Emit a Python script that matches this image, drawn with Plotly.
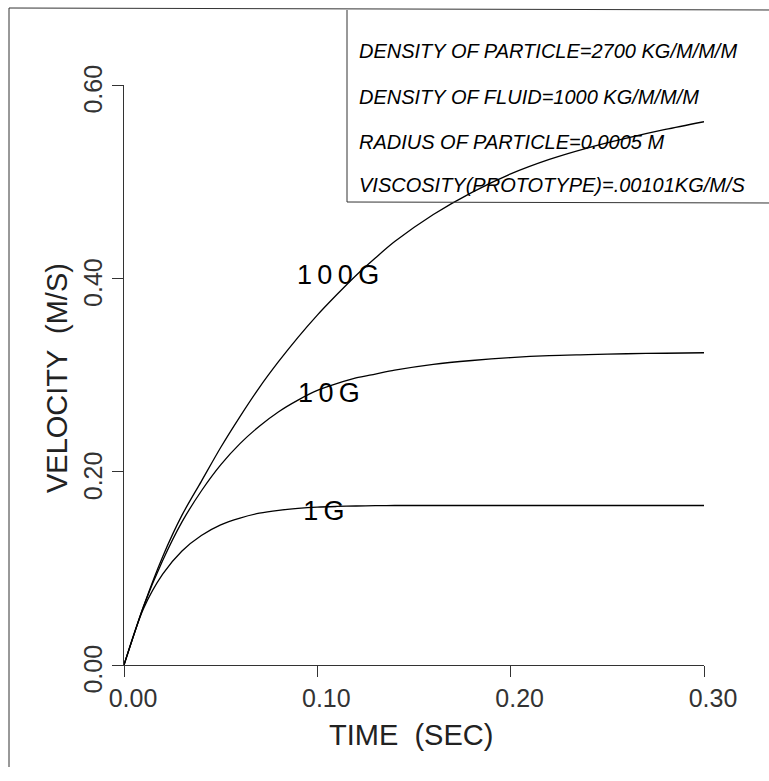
import plotly.graph_objects as go

# ---- data ----
time_s = [0, 0.01, 0.02, 0.03, 0.04, 0.05, 0.06, 0.07, 0.08, 0.09, 0.10, 0.11,
          0.12, 0.13, 0.14, 0.16, 0.18, 0.20, 0.22, 0.24, 0.26, 0.28, 0.30]
v_100g = [0, 0.060, 0.112, 0.155, 0.190, 0.225, 0.257, 0.287, 0.314, 0.339, 0.362, 0.383,
          0.403, 0.421, 0.438, 0.466, 0.489, 0.508, 0.523, 0.535, 0.545, 0.554, 0.562]
v_10g = [0, 0.060, 0.108, 0.148, 0.180, 0.207, 0.229, 0.247, 0.262, 0.274, 0.284, 0.291,
         0.297, 0.301, 0.305, 0.311, 0.315, 0.318, 0.320, 0.321, 0.322, 0.3225, 0.323]
v_1g = [0, 0.058, 0.094, 0.118, 0.134, 0.145, 0.152, 0.157, 0.160, 0.162, 0.1633, 0.1640,
        0.1645, 0.1648, 0.165, 0.165, 0.165, 0.165, 0.165, 0.165, 0.165, 0.165, 0.165]

curve_labels = ["1\u20090\u20090\u2009G", "1\u20090\u2009G", "1\u2009G"]
label_t = [0.1107, 0.106, 0.1034]
label_v = [0.401, 0.279, 0.157]

x_tickvals = [0.0, 0.10, 0.20, 0.30]
x_ticktext = ["0.00", "0.10", "0.20", "0.30"]
y_tickvals = [0.0, 0.20, 0.40, 0.60]
y_ticktext = ["0.00", "0.20", "0.40", "0.60"]

info_lines = [
    "DENSITY OF PARTICLE=2700 KG/M/M/M",
    "DENSITY OF FLUID=1000 KG/M/M/M",
    "RADIUS OF PARTICLE=0.0005 M",
    "VISCOSITY(PROTOTYPE)=.00101KG/M/S",
]

NARROW = "Liberation Sans Narrow, Liberation Sans, Arial, sans-serif"
SANS = "Liberation Sans, Arial, sans-serif"

fig = go.Figure()
for v in (v_100g, v_10g, v_1g):
    fig.add_trace(go.Scatter(x=time_s, y=v, mode="lines",
                             line=dict(color="black", width=1.3, shape="spline", smoothing=0.8),
                             showlegend=False, hoverinfo="skip"))

fig.add_trace(go.Scatter(x=label_t, y=label_v, mode="text", text=curve_labels,
                         textfont=dict(family=SANS, size=27, color="black"),
                         textposition="middle center", showlegend=False, hoverinfo="skip"))

# plot area in pixels: x 124..704, y 85..665
W, H = 769, 781
L, R, T, B = 124, 65, 85, 116
pw, ph = W - L - R, H - T - B

def px(xp):
    return (xp - L) / pw

def py(yp):
    return (H - B - yp) / ph

shapes = []
line_style = dict(color="#333", width=1)
# outer frame
shapes.append(dict(type="line", xref="paper", yref="paper", x0=px(9), x1=px(9), y0=py(8), y1=py(767), line=line_style))
shapes.append(dict(type="line", xref="paper", yref="paper", x0=px(9), x1=px(772), y0=py(8), y1=py(10), line=line_style))
# info box
shapes.append(dict(type="line", xref="paper", yref="paper", x0=px(347), x1=px(347), y0=py(10), y1=py(202), line=line_style))
shapes.append(dict(type="line", xref="paper", yref="paper", x0=px(347), x1=px(772), y0=py(202), y1=py(203), line=line_style))

annotations = []
info_y = [51, 97, 142, 185]
for txt, yy in zip(info_lines, info_y):
    annotations.append(dict(xref="paper", yref="paper", x=px(357), y=py(yy),
                            text="<i>" + txt + "</i>", showarrow=False, xanchor="left", yanchor="middle",
                            font=dict(family=NARROW, size=20, color="black")))

annotations.append(dict(xref="paper", yref="paper", x=px(411), y=py(735), text="TIME  (SEC)",
                        showarrow=False, xanchor="center", yanchor="middle",
                        font=dict(family=NARROW, size=29, color="#222")))
annotations.append(dict(xref="paper", yref="paper", x=px(57), y=py(378), text="VELOCITY  (M/S)",
                        showarrow=False, xanchor="center", yanchor="middle", textangle=-90,
                        font=dict(family=NARROW, size=29, color="#222")))

fig.update_layout(
    width=W, height=H,
    margin=dict(l=L, r=R, t=T, b=B),
    plot_bgcolor="white", paper_bgcolor="white",
    shapes=shapes, annotations=annotations,
    xaxis=dict(range=[0, 0.30], tickvals=x_tickvals, ticktext=x_ticktext,
               showgrid=False, zeroline=False, showline=True, linecolor="#333", linewidth=1,
               ticks="outside", ticklen=11, tickcolor="#333", tickwidth=1,
               ticklabelshift=9,
               tickfont=dict(family=NARROW, size=25, color="#333")),
    yaxis=dict(range=[0, 0.60], tickvals=y_tickvals, ticktext=y_ticktext,
               showgrid=False, zeroline=False, showline=True, linecolor="#333", linewidth=1,
               ticks="outside", ticklen=11, tickcolor="#333", tickwidth=1,
               tickangle=-90, ticklabelshift=8,
               tickfont=dict(family=NARROW, size=25, color="#333")),
)

fig.write_html("out.html")
